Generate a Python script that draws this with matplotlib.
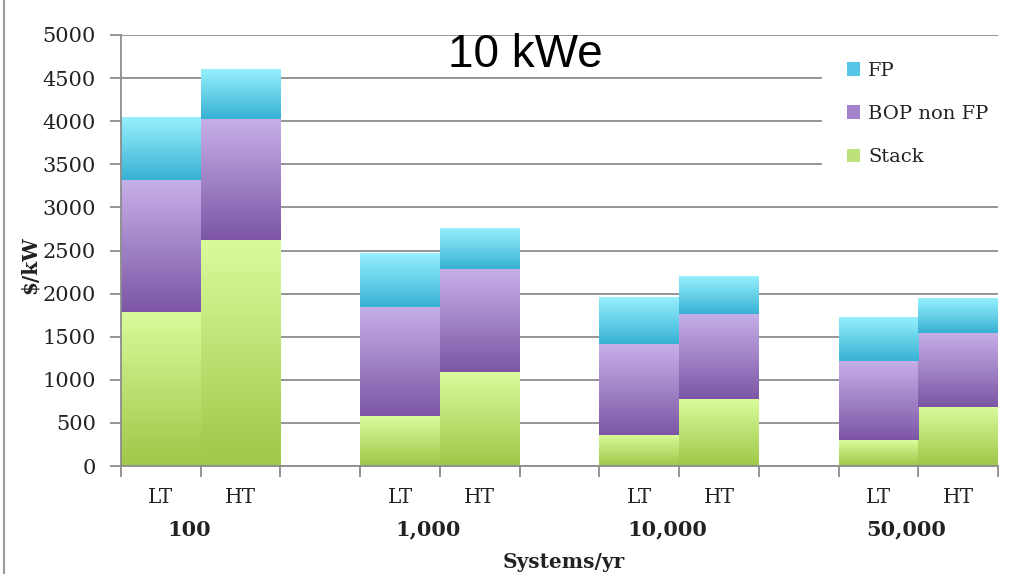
import numpy as np
import matplotlib.pyplot as plt
from matplotlib.colors import LinearSegmentedColormap
from matplotlib.patches import Patch, Rectangle
from matplotlib.lines import Line2D

# data ($/kW), order: LT/HT for each volume
volumes = ['100', '1,000', '10,000', '50,000']
techs = ['LT', 'HT']
stack = [1790, 2620, 580, 1090, 360, 775, 300, 685]
bop = [1530, 1405, 1265, 1195, 1055, 990, 920, 860]
fp = [720, 580, 615, 465, 545, 430, 500, 395]

serif = ['DejaVu Serif']
grey = '#8c8c8c'

# gradient colours (top, bottom) per series
grads = {
    'Stack': ('#dafb9c', '#9fc748'),
    'BOP non FP': ('#c7b0e9', '#7c56a5'),
    'FP': ('#97f0fd', '#37b1d4'),
}

fig = plt.figure(figsize=(10.19, 5.74), dpi=100)
ax = fig.add_axes([121/1019, 1-466/574, (998-121)/1019, (466-35)/574])

x = np.array([3*(i//2) + i % 2 for i in range(len(stack))], dtype=float)
w = 1.0

bottoms = np.zeros(len(stack))
for name, vals in [('Stack', stack), ('BOP non FP', bop), ('FP', fp)]:
    cmap = LinearSegmentedColormap.from_list(name, [grads[name][1], grads[name][0]])
    bars = ax.bar(x, vals, w, bottom=bottoms, color='none', linewidth=0, zorder=2)
    for r in bars:
        x0, y0 = r.get_x(), r.get_y()
        g = np.linspace(0, 1, 256).reshape(-1, 1)
        ax.imshow(g, cmap=cmap, origin='lower', aspect='auto', interpolation='bicubic',
                  extent=[x0, x0 + r.get_width(), y0, y0 + r.get_height()], zorder=2)
    bottoms += np.array(vals)

ax.set_xlim(-0.5, 10.5)
ax.set_ylim(0, 5000)
ax.set_yticks(np.arange(0, 5001, 500))
ax.yaxis.grid(True, color=grey, linewidth=1.3)
ax.set_axisbelow(True)
for s in ['top', 'right']:
    ax.spines[s].set_visible(False)
for s in ['left', 'bottom']:
    ax.spines[s].set_color(grey)
    ax.spines[s].set_linewidth(1.3)

ax.tick_params(axis='y', length=8, width=1.3, color=grey, pad=10,
               labelsize=15, labelcolor='#222222')
for t in ax.get_yticklabels():
    t.set_family(serif)

# boundaries as major ticks, labels on minor ticks
ax.set_xticks(np.arange(-0.5, 11, 1))
ax.set_xticklabels([])
ax.tick_params(axis='x', which='major', length=8, width=1.3, color=grey)
ax.set_xticks(x, minor=True)
ax.set_xticklabels(techs * len(volumes), minor=True)
ax.tick_params(axis='x', which='minor', length=0, pad=16, labelsize=14.5, labelcolor='#222222')
for t in ax.get_xticklabels(minor=True):
    t.set_family(serif)

trans = ax.get_xaxis_transform()
for i, v in enumerate(volumes):
    ax.text(3*i + 0.35, -0.148, v, transform=trans, ha='center', va='center',
            fontsize=15, fontweight='bold', family=serif, color='#222222')

ax.text(5.05, -0.223, 'Systems/yr', transform=trans, ha='center', va='center',
        fontsize=14.5, fontweight='bold', family=serif, color='#222222')
fig.text(30/1019, 1-265/574, '$/kW', rotation=90, ha='center', va='center',
         fontsize=14.5, fontweight='bold', family=serif, color='#222222')

fig.text(525/1019, 1-55/574, '10 kWe', ha='center', va='center',
         fontsize=33, family='Liberation Sans', color='black')

# white legend area hides the gridlines behind it
ax.add_patch(Rectangle((822/1019, 1-190/574), 180/1019, 140/574, transform=fig.transFigure,
                       facecolor='white', edgecolor='none', zorder=1.5))

handles = [Patch(facecolor='#55c6e6', label='FP'),
           Patch(facecolor='#a283cc', label='BOP non FP'),
           Patch(facecolor='#bde27a', label='Stack')]
leg = fig.legend(handles=handles, loc='upper left', bbox_to_anchor=(837/1019, 1-52/574),
                 frameon=False, handlelength=0.7, handleheight=0.7, handletextpad=0.4,
                 labelspacing=1.3, borderpad=0, prop={'family': serif, 'size': 14})
for t in leg.get_texts():
    t.set_color('#222222')

fig.add_artist(Line2D([4/1019, 4/1019], [0, 1], color='#9a9a9a', linewidth=1.5,
                      transform=fig.transFigure))

fig.savefig('out.png', dpi=100)
